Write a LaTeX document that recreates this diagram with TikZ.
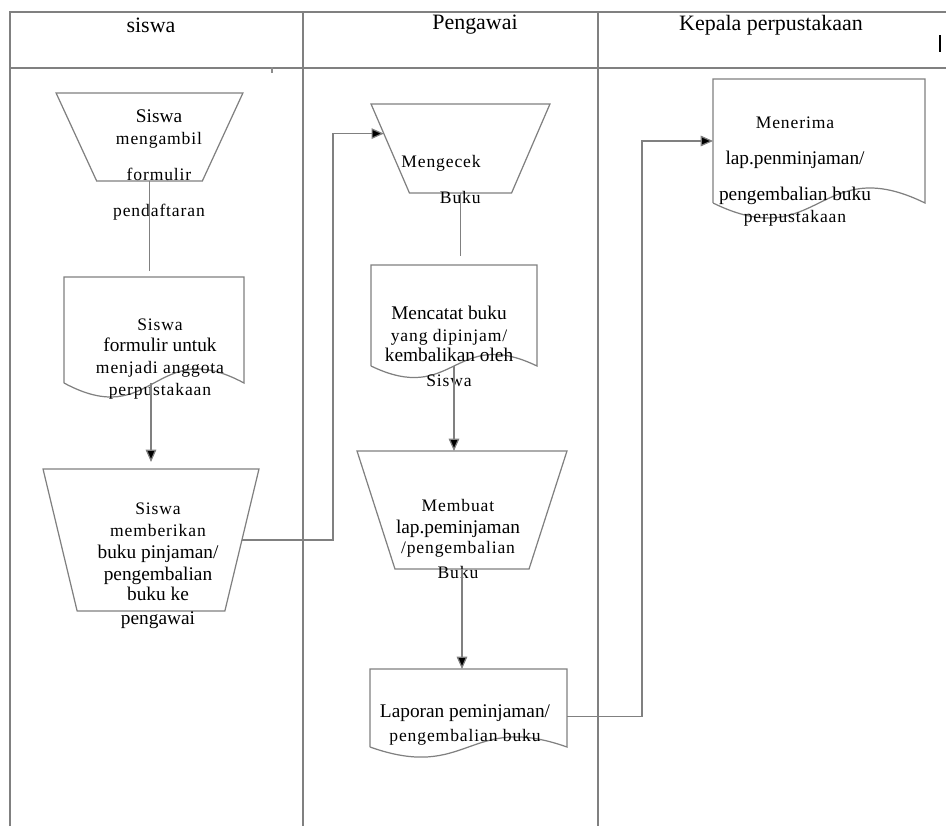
\documentclass[tikz,border=0pt]{standalone}
\usepackage{fontspec}
\setmainfont{Liberation Serif}
\usetikzlibrary{shapes.geometric, arrows.meta}
\usetikzlibrary{positioning, calc}

\newcommand{\spaced}[1]{{\fontsize{10}{12}\selectfont\addfontfeature{LetterSpace=5}#1}}
% document symbol: straight sides, wavy bottom
\newcommand{\docshape}[2]{\draw[shp] (#1.south west) -- (#1.north west) -- (#1.north east) -- (#1.south east)
  .. controls ($(#1.south)+(0,#2)$) and ($(#1.south)-(0,#2)$) .. (#1.south west);}

\tikzstyle{lane} = [draw=black!50, line width=0.7pt]
\tikzstyle{shp} = [draw=black!50, line width=0.7pt]
\tikzstyle{manual} = [trapezium, shape border rotate=180, trapezium stretches=true, draw=black!50, line width=0.7pt, inner sep=3pt, outer sep=0pt]
\tikzstyle{doc} = [rectangle, inner sep=0pt, outer sep=0pt]
\tikzstyle{txt} = [inner sep=0pt, align=center, font=\fontsize{11}{12.5}\selectfont]
\tikzstyle{head} = [inner sep=0pt, font=\fontsize{12.5}{14}\selectfont]
\tikzstyle{link} = [draw=black!50, line width=0.7pt]
\tikzstyle{aro} = [-{Triangle[length=7pt,width=6pt,fill=black]}, draw=black!50, line width=0.7pt]

\begin{document}
\begin{tikzpicture}[x=0.02cm, y=-0.02cm]
  \useasboundingbox (0,0) rectangle (946,826);

  % swimlanes
  \draw[lane] (10,826) -- (10,12) -- (946,12);
  \draw[lane] (10,68) -- (946,68);
  \draw[lane] (303,12) -- (303,826);
  \draw[lane] (598,12) -- (598,826);
  \draw[black!45, line width=0.6pt] (272,67) -- (272,73);
  \draw[black, line width=0.9pt] (940,35) -- (940,52);

  \node (hsiswa) [head] at (151,25) {siswa};
  \node (hpeg) [head] at (475,25) {Pengawai};
  \node (hkep) [head] at (771,25) {Kepala perpustakaan};

  % siswa
  \node (amb) [manual, minimum width=3.74cm, minimum height=1.76cm, trapezium left angle=69, trapezium right angle=69] at (149.5,137) {};
  \node (ambtx) [txt] at (159,164.5) {Siswa\\ \spaced{mengambil}\\[8pt] \spaced{formulir}\\[8pt] \spaced{pendaftaran}};

  \node (frm) [doc, minimum width=3.6cm, minimum height=2.12cm] at (154,330) {};
  \docshape{frm}{0.97cm}
  \node (frmtx) [txt] at (160,359) {\spaced{Siswa}\\[-1pt] formulir untuk\\ \spaced{menjadi anggota}\\ \spaced{perpustakaan}};

  \node (beri) [manual, minimum width=4.32cm, minimum height=2.84cm, trapezium left angle=77, trapezium right angle=77] at (151,540) {};
  \node (beritx) [txt] at (158,566) {\spaced{Siswa}\\ \spaced{memberikan}\\ buku pinjaman/\\ pengembalian\\[-1pt] buku ke\\[1pt] pengawai};

  % pengawai
  \node (cek) [manual, minimum width=3.58cm, minimum height=1.78cm, trapezium left angle=69.4, trapezium right angle=69.4] at (460.5,148.5) {};
  \node (cektx) [txt, align=right, anchor=east] at (481,179.5) {\spaced{Mengecek}\\[8.5pt] \spaced{Buku}};

  \node (catat) [doc, minimum width=3.32cm, minimum height=2.02cm] at (454,315.5) {};
  \docshape{catat}{0.8cm}
  \node (catattx) [txt] at (449,346.5) {Mencatat buku\\ \spaced{yang dipinjam/}\\[-1pt] kembalikan oleh\\[1.7pt] \spaced{Siswa}};

  \node (buat) [manual, minimum width=4.2cm, minimum height=2.36cm, trapezium left angle=74.2, trapezium right angle=74.2] at (462,510) {};
  \node (buattx) [txt] at (458,539) {\spaced{Membuat}\\ lap.peminjaman\\[-1pt] \spaced{/pengembalian}\\[2pt] \spaced{Buku}};

  \node (lap) [doc, minimum width=3.94cm, minimum height=1.56cm] at (468.5,708) {};
  \docshape{lap}{0.7cm}
  \node (laptx) [txt] at (465,725) {Laporan peminjaman/\\[1pt] \spaced{pengembalian buku}};

  % kepala perpustakaan
  \node (terima) [doc, minimum width=4.24cm, minimum height=2.48cm] at (819,141) {};
  \docshape{terima}{1.04cm}
  \node (terimatx) [txt] at (795,171.5) {\spaced{Menerima}\\[7.5pt] lap.penminjaman/\\[8.5pt] pengembalian buku\\[-0.5pt] \spaced{perpustakaan}};

  % flow
  \draw[link, shorten >=0.12cm] (amb.south) -- (amb.south |- frm.north);
  \draw[aro, shorten >=0.14cm] (beri.north |- frm.south) -- (beri.north);
  \coordinate (j1) at ($(beri.east)+(91,0)$);
  \draw[aro] (beri.east) -- (j1) |- (cek.169);
  \draw[link, shorten >=0.18cm] (cek.south) -- (cek.south |- catat.north);
  \draw[aro] (catat.south) -- (catat.south |- buat.north);
  \draw[aro] (buat.south) -- (buat.south |- lap.north);
  \coordinate (j2) at ($(lap.-5)+(75,0)$);
  \draw[aro] (lap.-5) -- (j2) |- (terima.west);

\end{tikzpicture}
\end{document}
